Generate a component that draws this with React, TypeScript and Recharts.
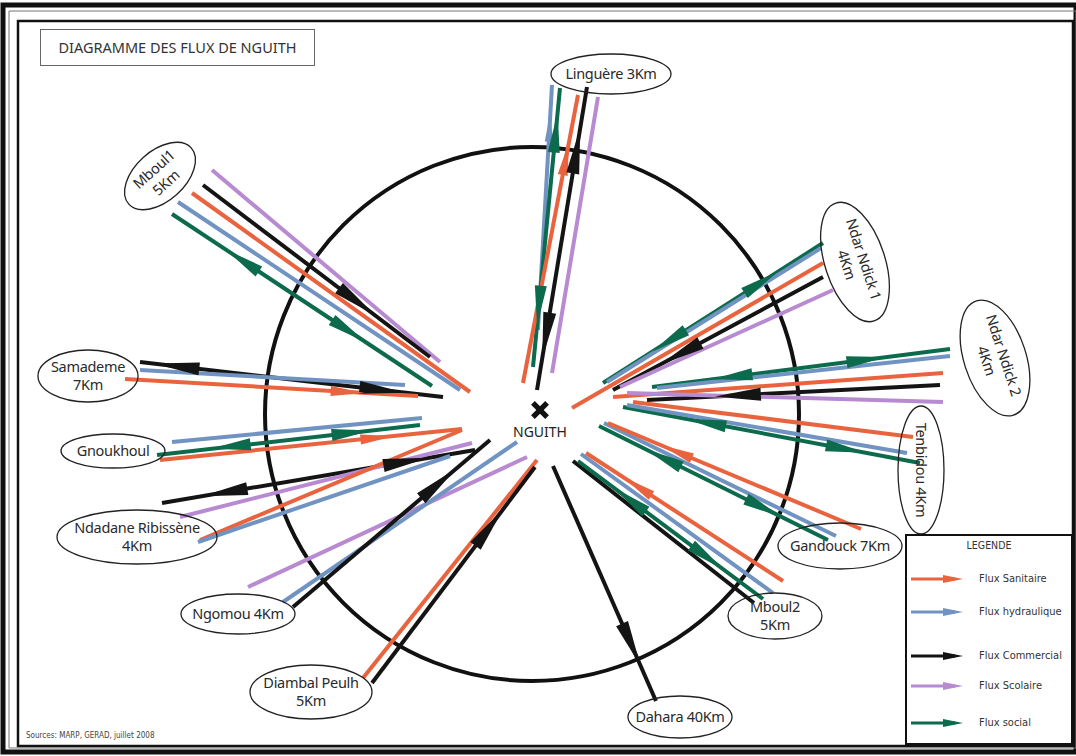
import { ScatterChart, Scatter, XAxis, YAxis, ReferenceDot, ReferenceArea } from 'recharts';

// ---- data ----
const flowTypes = ['san', 'hyd', 'com', 'sco', 'soc'];
const flowLabels = ['Flux Sanitaire', 'Flux hydraulique', 'Flux Commercial', 'Flux Scolaire', 'Flux social'];

const places = [
  'Linguère', 'Mboul1', 'Ndar Ndick 1', 'Ndar Ndick 2', 'Tenbidou', 'Samademe', 'Gnoukhoul',
  'Ndadane Ribissène', 'Ngomou', 'Diambal Peulh', 'Dahara', 'Mboul2', 'Gandouck',
];
const placeLabels = [
  ['Linguère 3Km'], ['Mboul1', '5Km'], ['Ndar Ndick 1', '4Km'], ['Ndar Ndick 2', '4Km'], ['Tenbidou 4Km'],
  ['Samademe', '7Km'], ['Gnoukhoul'], ['Ndadane Ribissène', '4Km'], ['Ngomou 4Km'], ['Diambal Peulh', '5Km'],
  ['Dahara 40Km'], ['Mboul2', '5Km'], ['Gandouck 7Km'],
];
// place positions on the diagram (image units)
const placeX = [611, 160, 855, 995, 921, 88, 113, 137, 238, 311, 680, 775, 840];
const placeY = [74, 176, 262, 358, 470, 376, 451, 537, 614, 692, 717, 616, 546];

const hub = { name: 'NGUITH', x: 540, y: 410 };

// flows: outer end (at the village) -> inner end (near Nguith), arrowheads [t along, 1 = inward / -1 = outward]
type Flow = { place: string; type: string; from: number[]; to: number[]; heads: number[][] };
const flows: Flow[] = [
  { place: 'Linguère', type: 'hyd', from: [552, 85], to: [538, 330], heads: [[0.17, -1]] },
  { place: 'Linguère', type: 'soc', from: [560, 88], to: [533, 367], heads: [[0.16, -1], [0.78, 1]] },
  { place: 'Linguère', type: 'san', from: [578, 95], to: [523, 383], heads: [[0.22, -1]] },
  { place: 'Linguère', type: 'com', from: [587, 87], to: [537, 390], heads: [[0.21, -1], [0.82, 1]] },
  { place: 'Linguère', type: 'sco', from: [598, 97], to: [552, 373], heads: [] },

  { place: 'Mboul1', type: 'sco', from: [212, 170], to: [440, 362], heads: [] },
  { place: 'Mboul1', type: 'com', from: [203, 185], to: [430, 357], heads: [[0.68, 1]] },
  { place: 'Mboul1', type: 'san', from: [192, 193], to: [470, 392], heads: [] },
  { place: 'Mboul1', type: 'hyd', from: [178, 202], to: [460, 390], heads: [] },
  { place: 'Mboul1', type: 'soc', from: [172, 214], to: [432, 386], heads: [[0.27, -1], [0.68, 1]] },

  { place: 'Samademe', type: 'com', from: [140, 362], to: [443, 397], heads: [[0.12, -1], [0.8, 1]] },
  { place: 'Samademe', type: 'hyd', from: [140, 370], to: [405, 385], heads: [] },
  { place: 'Samademe', type: 'san', from: [125, 379], to: [418, 396], heads: [[0.76, 1]] },

  { place: 'Gnoukhoul', type: 'hyd', from: [172, 442], to: [422, 418], heads: [] },
  { place: 'Gnoukhoul', type: 'soc', from: [157, 455], to: [420, 425], heads: [[0.28, -1], [0.74, 1]] },
  { place: 'Gnoukhoul', type: 'san', from: [160, 460], to: [462, 429], heads: [[0.72, 1]] },

  { place: 'Ndadane Ribissène', type: 'com', from: [162, 503], to: [475, 450], heads: [[0.2, -1], [0.78, 1]] },
  { place: 'Ndadane Ribissène', type: 'sco', from: [180, 517], to: [472, 443], heads: [] },
  { place: 'Ndadane Ribissène', type: 'san', from: [200, 540], to: [462, 430], heads: [] },
  { place: 'Ndadane Ribissène', type: 'hyd', from: [198, 542], to: [450, 456], heads: [] },

  { place: 'Ngomou', type: 'sco', from: [248, 587], to: [527, 457], heads: [] },
  { place: 'Ngomou', type: 'hyd', from: [283, 602], to: [517, 442], heads: [] },
  { place: 'Ngomou', type: 'com', from: [293, 607], to: [490, 440], heads: [[0.74, 1]] },

  { place: 'Diambal Peulh', type: 'san', from: [363, 678], to: [537, 460], heads: [] },
  { place: 'Diambal Peulh', type: 'com', from: [372, 683], to: [535, 467], heads: [[0.72, 1]] },

  { place: 'Dahara', type: 'com', from: [656, 701], to: [553, 466], heads: [[0.24, -1]] },

  { place: 'Mboul2', type: 'com', from: [754, 603], to: [573, 461], heads: [] },
  { place: 'Mboul2', type: 'soc', from: [763, 599], to: [578, 461], heads: [[0.3, -1], [0.72, 1]] },
  { place: 'Mboul2', type: 'hyd', from: [773, 593], to: [581, 454], heads: [] },
  { place: 'Mboul2', type: 'san', from: [783, 581], to: [586, 453], heads: [[0.74, 1]] },

  { place: 'Gandouck', type: 'soc', from: [828, 540], to: [599, 426], heads: [[0.28, -1], [0.72, 1]] },
  { place: 'Gandouck', type: 'hyd', from: [836, 536], to: [604, 423], heads: [] },
  { place: 'Gandouck', type: 'san', from: [861, 529], to: [608, 423], heads: [[0.73, 1]] },

  { place: 'Tenbidou', type: 'soc', from: [920, 463], to: [623, 407], heads: [[0.25, -1], [0.72, 1]] },
  { place: 'Tenbidou', type: 'hyd', from: [907, 453], to: [627, 405], heads: [] },
  { place: 'Tenbidou', type: 'san', from: [913, 437], to: [633, 402], heads: [] },

  { place: 'Ndar Ndick 2', type: 'soc', from: [950, 349], to: [652, 387], heads: [[0.28, -1], [0.73, 1]] },
  { place: 'Ndar Ndick 2', type: 'hyd', from: [950, 356], to: [657, 388], heads: [] },
  { place: 'Ndar Ndick 2', type: 'san', from: [943, 373], to: [613, 397], heads: [] },
  { place: 'Ndar Ndick 2', type: 'com', from: [940, 385], to: [647, 400], heads: [[0.69, 1]] },
  { place: 'Ndar Ndick 2', type: 'sco', from: [943, 402], to: [627, 393], heads: [] },

  { place: 'Ndar Ndick 1', type: 'soc', from: [823, 243], to: [603, 383], heads: [[0.28, -1], [0.7, 1]] },
  { place: 'Ndar Ndick 1', type: 'hyd', from: [821, 248], to: [607, 382], heads: [] },
  { place: 'Ndar Ndick 1', type: 'san', from: [823, 263], to: [572, 408], heads: [] },
  { place: 'Ndar Ndick 1', type: 'com', from: [823, 277], to: [613, 390], heads: [[0.68, 1]] },
  { place: 'Ndar Ndick 1', type: 'sco', from: [833, 290], to: [620, 387], heads: [] },
];

// ---- styles ----
const colors: Record<string, string> = {
  san: '#e9643e',
  hyd: '#7093c2',
  com: '#141414',
  sco: '#b88ad2',
  soc: '#0b6b4c',
};
const headSize: Record<string, { len: number; w: number }> = {
  san: { len: 34, w: 5 },
  hyd: { len: 30, w: 4 },
  com: { len: 46, w: 6.5 },
  sco: { len: 30, w: 4.5 },
  soc: { len: 40, w: 6 },
};
const ellipses: Record<string, { rx: number; ry: number; rot: number }> = {
  'Linguère': { rx: 60, ry: 20, rot: 0 },
  'Mboul1': { rx: 42, ry: 25, rot: -42 },
  'Ndar Ndick 1': { rx: 62, ry: 30, rot: 72 },
  'Ndar Ndick 2': { rx: 60, ry: 31, rot: 72 },
  'Tenbidou': { rx: 64, ry: 23, rot: 90 },
  'Samademe': { rx: 50, ry: 26, rot: 0 },
  'Gnoukhoul': { rx: 52, ry: 17, rot: 0 },
  'Ndadane Ribissène': { rx: 80, ry: 27, rot: 0 },
  'Ngomou': { rx: 57, ry: 20, rot: 0 },
  'Diambal Peulh': { rx: 61, ry: 27, rot: 0 },
  'Dahara': { rx: 52, ry: 21, rot: 0 },
  'Mboul2': { rx: 47, ry: 23, rot: 0 },
  'Gandouck': { rx: 62, ry: 23, rot: 0 },
};
const font = '"Noto Sans", "Open Sans", sans-serif';
const narrow = '"DejaVu Sans Condensed", "Liberation Sans Narrow", "Noto Sans", sans-serif';

const placeData = places.map((name, i) => ({ name, x: placeX[i], y: placeY[i], lines: placeLabels[i] }));

const headData = flows.flatMap(f =>
  f.heads.map(([t, dir]) => {
    const dx = f.to[0] - f.from[0];
    const dy = f.to[1] - f.from[1];
    return {
      x: f.from[0] + t * dx,
      y: f.from[1] + t * dy,
      type: f.type,
      angle: Math.atan2(dy, dx) + (dir < 0 ? Math.PI : 0),
    };
  })
);

const NoDot = () => <g />;

const HeadShape = (p: any) => {
  const { cx, cy, payload } = p;
  const s = headSize[payload.type];
  const deg = (payload.angle * 180) / Math.PI;
  return (
    <polygon
      points={`${s.len / 2},0 ${-s.len / 2},${-s.w} ${-s.len / 2},${s.w}`}
      transform={`translate(${cx},${cy}) rotate(${deg})`}
      fill={colors[payload.type]}
    />
  );
};

const PlaceShape = (p: any) => {
  const { cx, cy, payload } = p;
  const e = ellipses[payload.name];
  const lines: string[] = payload.lines;
  const lh = 18;
  const y0 = -((lines.length - 1) * lh) / 2;
  return (
    <g transform={`translate(${cx},${cy}) rotate(${e.rot})`}>
      <ellipse rx={e.rx} ry={e.ry} fill="none" stroke="#222" strokeWidth={1.3} />
      {lines.map((l, i) => (
        <text
          key={i}
          x={0}
          y={y0 + i * lh}
          dy="0.35em"
          textAnchor="middle"
          fontFamily={font}
          fontSize={14.5}
          letterSpacing={-0.3}
          fill="#2a2a2a"
        >
          {l}
        </text>
      ))}
    </g>
  );
};

const HubShape = (p: any) => {
  const { cx, cy, payload } = p;
  return (
    <g>
      <g transform={`translate(${cx},${cy}) rotate(45)`} fill="#111">
        <rect x={-10} y={-2.6} width={20} height={5.2} />
        <rect x={-2.6} y={-10} width={5.2} height={20} />
      </g>
      <text x={cx} y={cy + 22} dy="0.35em" textAnchor="middle" fontFamily={font} fontSize={14} fill="#222">
        {payload.name}
      </text>
    </g>
  );
};

function LegendBox() {
  return (
    <div
      style={{
        position: 'absolute',
        left: 905,
        top: 534,
        width: 164,
        height: 207,
        border: '2px solid #111',
        fontFamily: narrow,
        color: '#333',
      }}
    >
      <div style={{ position: 'absolute', left: 0, right: 0, top: 3, textAlign: 'center', fontSize: 10.5 }}>LEGENDE</div>
      {flowTypes.map((t, i) => {
        const top = [33, 66, 110, 140, 177][i];
        return (
          <div key={t} style={{ position: 'absolute', left: 0, top, width: 164, height: 20 }}>
            <svg width={60} height={20} style={{ position: 'absolute', left: 2, top: 0 }}>
              <line x1={2} y1={10} x2={46} y2={10} stroke={colors[t]} strokeWidth={3} />
              <polygon points="54,10 34,6 34,14" fill={colors[t]} />
            </svg>
            <span style={{ position: 'absolute', left: 72, top: 3, fontSize: 11, whiteSpace: 'nowrap' }}>{flowLabels[i]}</span>
          </div>
        );
      })}
    </div>
  );
}

export default function App() {
  return (
    <div style={{ position: 'absolute', left: 0, top: 0, width: 1076, height: 756, background: '#fff' }}>
      <ScatterChart width={1076} height={756} margin={{ top: 0, right: 0, bottom: 0, left: 0 }}>
        <XAxis type="number" dataKey="x" domain={[0, 1076]} hide allowDataOverflow />
        <YAxis type="number" dataKey="y" domain={[0, 756]} reversed hide allowDataOverflow />
        <ReferenceArea x1={3} x2={1076} y1={5} y2={752} fill="none" stroke="#111" strokeWidth={5} ifOverflow="visible" />
        <ReferenceArea x1={9} x2={1076} y1={11} y2={748} fill="none" stroke="#777" strokeWidth={1} ifOverflow="visible" />
        <ReferenceArea x1={18} x2={1073} y1={21} y2={746} fill="none" stroke="#111" strokeWidth={2.5} ifOverflow="visible" />
        <ReferenceDot x={532} y={414} r={267} fill="none" stroke="#111" strokeWidth={4} ifOverflow="visible" />
        {flows.map((f, i) => (
          <Scatter
            key={i}
            data={[{ x: f.from[0], y: f.from[1] }, { x: f.to[0], y: f.to[1] }]}
            line={{ stroke: colors[f.type], strokeWidth: 4 }}
            shape={NoDot}
            isAnimationActive={false}
          />
        ))}
        <Scatter data={headData} shape={HeadShape} isAnimationActive={false} />
        <Scatter data={placeData} shape={PlaceShape} isAnimationActive={false} />
        <Scatter data={[hub]} shape={HubShape} isAnimationActive={false} />
      </ScatterChart>
      <div
        style={{
          position: 'absolute',
          left: 40,
          top: 29,
          width: 273,
          height: 35,
          border: '1.5px solid #666',
          fontFamily: font,
          fontSize: 14.5,
          color: '#333',
          lineHeight: '35px',
          textAlign: 'center',
        }}
      >
        DIAGRAMME DES FLUX DE NGUITH
      </div>
      <div
        style={{
          position: 'absolute',
          left: 26,
          top: 731,
          fontFamily: narrow,
          fontSize: 8,
          color: '#444',
        }}
      >
        Sources: MARP, GERAD, juillet 2008
      </div>
      <LegendBox />
    </div>
  );
}
